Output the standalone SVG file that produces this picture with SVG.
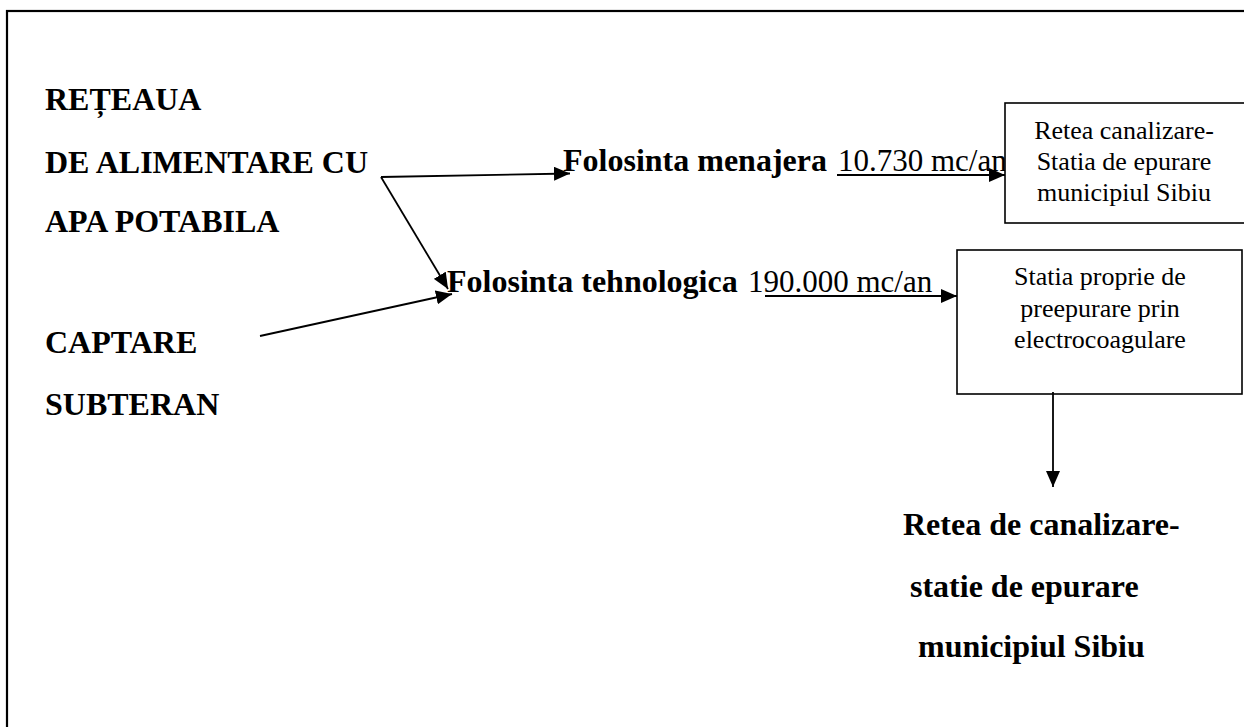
<svg xmlns="http://www.w3.org/2000/svg" width="1244" height="727" viewBox="0 0 1244 727">
<style>
.b{font-family:"Liberation Serif","Times New Roman",serif;font-weight:bold;font-size:32px;fill:#000}
.r{font-family:"Liberation Serif","Times New Roman",serif;font-size:31px;fill:#000}
.s{font-family:"Liberation Serif","Times New Roman",serif;font-size:26px;fill:#000;text-anchor:middle}
.box{fill:#fff;stroke:#000;stroke-width:1.6}
.c{fill:none;stroke:#000;stroke-width:1.8;marker-end:url(#ah)}
</style>
<defs>
<marker id="ah" markerUnits="userSpaceOnUse" markerWidth="17" markerHeight="14" refX="16" refY="7" orient="auto">
<path d="M0,0 L16,7 L0,14 Z" fill="#000"/>
</marker>
</defs>
<rect x="7" y="11" width="1260" height="740" fill="#fff" stroke="#000" stroke-width="2.2"/>
<g id="retea">
<text class="b" x="45" y="110">REȚEAUA</text>
<text class="b" x="45" y="173">DE ALIMENTARE CU</text>
<text class="b" x="45" y="232">APA POTABILA</text>
</g>
<g id="captare">
<text class="b" x="45" y="353">CAPTARE</text>
<text class="b" x="45" y="415">SUBTERAN</text>
</g>
<g id="menajera">
<text class="b" x="563" y="171">Folosinta menajera</text>
<text class="r" x="838" y="171">10.730 mc/an</text>
</g>
<g id="tehnologica">
<text class="b" x="447" y="292">Folosinta tehnologica</text>
<text class="r" x="748" y="292">190.000 mc/an</text>
</g>
<g id="statie-sibiu">
<rect class="box" x="1005" y="103" width="260" height="120"/>
<text class="s" x="1124" y="139">Retea canalizare-</text>
<text class="s" x="1124" y="170">Statia de epurare</text>
<text class="s" x="1124" y="201">municipiul Sibiu</text>
</g>
<g id="preepurare">
<rect class="box" x="957" y="250" width="285" height="144"/>
<text class="s" x="1100" y="285">Statia proprie de</text>
<text class="s" x="1100" y="317">preepurare prin</text>
<text class="s" x="1100" y="348">electrocoagulare</text>
</g>
<g id="retea-canalizare">
<text class="b" x="903" y="535">Retea de canalizare-</text>
<text class="b" x="910" y="597">statie de epurare</text>
<text class="b" x="918" y="657">municipiul Sibiu</text>
</g>
<g id="connectors">
<path class="c" d="M381,177 L570,173.5"/>
<path class="c" d="M381,177 L448,289"/>
<path class="c" d="M260,336 L452,294"/>
<path class="c" d="M837,175 L1005,175"/>
<path class="c" d="M765,296 L957,296"/>
<path class="c" d="M1053,392 L1053,487"/>
</g>
</svg>
